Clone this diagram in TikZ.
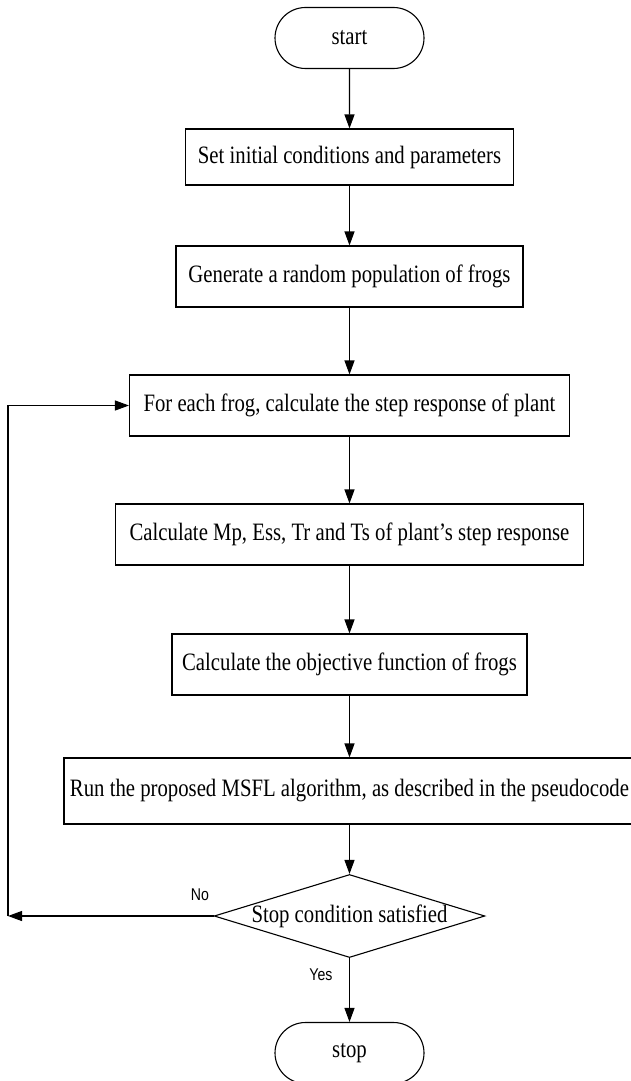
\documentclass[tikz,border=0pt]{standalone}
\usepackage{fontspec}
\setmainfont{Liberation Serif}[FakeStretch=0.83]
\newfontfamily\flowLabelFont{Liberation Sans}[FakeStretch=0.83]
\usetikzlibrary{shapes.geometric,shapes.misc,arrows.meta}
\providecommand{\flowLineWidth}{1.1pt}
\providecommand{\flowTextFont}{\fontsize{25}{28}\selectfont}
\providecommand{\flowAnswerFont}{\flowLabelFont\fontsize{17}{20}\selectfont}
\begin{document}
\begin{tikzpicture}[x=1pt, y=-1pt,
  flowbox/.style={draw, rectangle, line width=\flowLineWidth, minimum height=61pt, inner sep=0pt, font=\flowTextFont},
  terminal/.style={flowbox, rounded rectangle, minimum width=149pt},
  decision/.style={draw, diamond, aspect=3.26, line width=\flowLineWidth, minimum width=261pt, minimum height=80pt, inner sep=0pt, font=\flowTextFont},
  flowarrow/.style={draw, line width=\flowLineWidth, -{Triangle[length=14pt,width=10pt]}},
  answer/.style={font=\flowAnswerFont}]
% Page frame, cut as in the scan
\clip (0,0) rectangle (631,1081);
\fill[white] (0,0) rectangle (631,1081);
% Steps of the flow chart
\node[terminal] (start) at (349.5,38) {start};
\node[flowbox, minimum width=328pt, minimum height=56pt] (init) at (349.5,157) {Set initial conditions and parameters};
\node[flowbox, minimum width=347pt] (popul) at (349.5,276.5) {Generate a random population of frogs};
\node[flowbox, minimum width=440pt] (stepresp) at (349.5,405.5) {For each frog, calculate the step response of plant};
\node[flowbox, minimum width=468pt] (specs) at (349.5,534.5) {Calculate Mp, Ess, Tr and Ts of plant’s step response};
\node[flowbox, minimum width=355pt] (objfun) at (349.5,664.5) {Calculate the objective function of frogs};
\node[flowbox, minimum width=571pt, minimum height=66pt] (msfl) at (349.5,791) {Run the proposed MSFL algorithm, as described in the pseudocode};
\node[decision] (stopcond) at (349.5,916) {Stop condition satisfied};
\node[terminal] (stop) at (349.5,1053) {stop};
\coordinate (loopturn) at (8,916);
% Main line
\draw[flowarrow] (start) -- (init);
\draw[flowarrow] (init) -- (popul);
\draw[flowarrow] (popul) -- (stepresp);
\draw[flowarrow] (stepresp) -- (specs);
\draw[flowarrow] (specs) -- (objfun);
\draw[flowarrow] (objfun) -- (msfl);
\draw[flowarrow] (msfl) -- (stopcond);
\draw[flowarrow] (stopcond) -- (stop);
% Loop back when the condition fails
\draw[flowarrow] (stopcond.west) -- (loopturn);
\draw[flowarrow] (loopturn) |- (stepresp.west);
% Answers
\node[answer] (nolabel) at (200,895) {No};
\node[answer] (yeslabel) at (321,975) {Yes};
\end{tikzpicture}
\end{document}
